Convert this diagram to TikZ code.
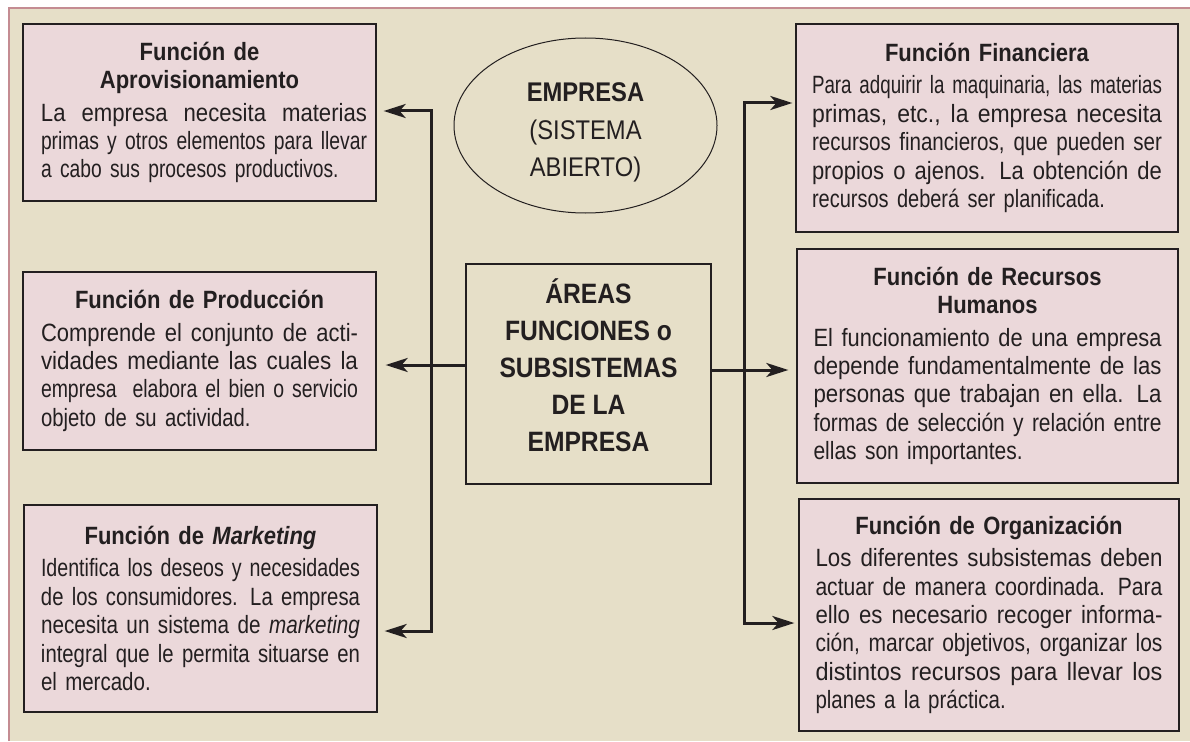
\documentclass[tikz,border=0pt]{standalone}
\usepackage{fontspec}
\usepackage{graphicx}
\setmainfont{Liberation Sans}
\newfontfamily\bodyA{Liberation Sans}[FakeStretch=0.77]
\newfontfamily\bodyB{Liberation Sans}[FakeStretch=0.81]
\newfontfamily\bodyC{Liberation Sans}[FakeStretch=0.82]
\newfontfamily\bodyD{Liberation Sans}[FakeStretch=0.80]
\newfontfamily\bodyE{Liberation Sans}[FakeStretch=0.84]
\newfontfamily\ttlf{Liberation Sans}[FakeStretch=0.88]
\usetikzlibrary{arrows.meta,shapes.geometric}
\definecolor{bgc}{HTML}{E6DFC8}
\definecolor{boxc}{HTML}{EBD8DA}
\definecolor{framec}{HTML}{C48C92}
\definecolor{ink}{HTML}{231F20}
\newlength{\jw}
\newlength{\jin}
\newsavebox{\jbox}
\newcommand{\ttl}[1]{{\centering\ttlf\bfseries #1\par}\vspace{4pt}}
\newcommand{\jl}[1]{\noindent\sbox{\jbox}{#1}%
  \ifdim\wd\jbox>\jw
    \resizebox{\jw}{\height}{\usebox{\jbox}}%
  \else
    \setlength{\jin}{\dimexpr\jw*20/23\relax}%
    \ifdim\wd\jbox>\jin \setlength{\jin}{\wd\jbox}\fi
    \resizebox{\jw}{\height}{\hbox to \jin{\spaceskip=0.22em plus 1fil minus 0.06em #1}}%
  \fi\par}
\newcommand{\lastl}[1]{\noindent #1\par}
\tikzset{
  fbox/.style={draw=ink, line width=1.3pt, fill=boxc, inner sep=0pt, text=ink},
  bfont/.style={font=#1\fontsize{25}{28.4}\selectfont},
  conn/.style={draw=ink, line width=3pt},
  arr/.style={conn, -{Stealth[length=22pt,width=14pt,inset=6pt]}},
}
\begin{document}
\begin{tikzpicture}[x=1pt,y=-1pt]
\useasboundingbox (0,0) rectangle (1190,741);
\fill[white] (0,0) rectangle (1190,741);
\fill[bgc] (9,8) rectangle (1190,741);
\draw[framec, line width=2pt] (9,741) -- (9,8) -- (1190,8);

\node[fbox, bfont=\bodyA, minimum width=353pt, minimum height=177pt, text width=335pt] (b1) at (199.5,112.5) {%
\leftskip=9pt \setlength{\jw}{326pt}%
\ttl{Función de\\Aprovisionamiento}%
\jl{La empresa necesita materias}%
\jl{primas y otros elementos para llevar}%
\lastl{a cabo sus procesos productivos.}};

\node[fbox, bfont=\bodyB, minimum width=353pt, minimum height=178pt, text width=317pt] (b2) at (199.5,361) {%
\setlength{\jw}{317pt}%
\ttl{Función de Producción}%
\jl{Comprende el conjunto de acti-}%
\jl{vidades mediante las cuales la}%
\jl{empresa\ \ elabora el bien o servicio}%
\lastl{objeto de su actividad.}};

\node[fbox, bfont=\bodyC, minimum width=353pt, minimum height=207pt, text width=319pt] (b3) at (200.5,608.5) {%
\setlength{\jw}{319pt}%
\ttl{Función de \textit{Marketing}}%
\jl{Identifica los deseos y necesidades}%
\jl{de los consumidores. La empresa}%
\jl{necesita un sistema de \textit{marketing}}%
\jl{integral que le permita situarse en}%
\lastl{el mercado.}};

\node[fbox, bfont=\bodyD, minimum width=382pt, minimum height=208pt, text width=350pt] (fin) at (987,128) {%
\setlength{\jw}{350pt}%
\ttl{Función Financiera}%
\jl{Para adquirir la maquinaria, las materias}%
\jl{primas, etc., la empresa necesita}%
\jl{recursos financieros, que pueden ser}%
\jl{propios o ajenos. La obtención de}%
\lastl{recursos deberá ser planificada.}};

\node[fbox, bfont=\bodyE, minimum width=381pt, minimum height=234pt, text width=348pt] (rh) at (987.5,366) {%
\setlength{\jw}{348pt}%
\ttl{Función de Recursos\\Humanos}%
\jl{El funcionamiento de una empresa}%
\jl{depende fundamentalmente de las}%
\jl{personas que trabajan en ella. La}%
\jl{formas de selección y relación entre}%
\lastl{ellas son importantes.}};

\node[fbox, bfont=\bodyC, minimum width=380pt, minimum height=232pt, text width=347pt] (org) at (989,615) {%
\setlength{\jw}{347pt}%
\ttl{Función de Organización}%
\jl{Los diferentes subsistemas deben}%
\jl{actuar de manera coordinada. Para}%
\jl{ello es necesario recoger informa-}%
\jl{ción, marcar objetivos, organizar los}%
\jl{distintos recursos para llevar los}%
\lastl{planes a la práctica.}};

\node[ellipse, draw=ink, line width=1pt, minimum width=263pt, minimum height=175pt, inner sep=0pt]
  (emp) at (585.5,125.5) {};
\node[align=center, text=ink, inner sep=0pt, font=\ttlf\fontsize{27}{37.5}\selectfont, yshift=-7pt]
  (empt) at (emp.center) {\textbf{EMPRESA}\\(SISTEMA\\ABIERTO)};

\node[draw=ink, line width=1.3pt, minimum width=245pt, minimum height=220pt, inner sep=0pt]
  (cb) at (588.5,374) {};
\node[align=center, text=ink, inner sep=0pt, font=\ttlf\bfseries\fontsize{28}{37}\selectfont, yshift=9pt]
  (cbt) at (cb.center) {ÁREAS\\FUNCIONES o\\SUBSISTEMAS\\DE LA\\EMPRESA};

\coordinate (lt) at (431,111);
\coordinate (lb) at (431,631);
\coordinate (rt) at (744,103);
\coordinate (rb) at (744,623);
\coordinate (cl) at (cb.west |- 0,365);
\coordinate (cr) at (cb.east |- 0,370);

\draw[arr, shorten >=7pt] (lb) -- (lt) -- (b1.east |- lt);
\draw[arr, shorten >=7pt] (lt) -- (lb) -- (b3.east |- lb);
\draw[arr, shorten >=9pt] (cl) -- (b2.east |- cl);
\draw[arr, shorten >=3pt] (rb) -- (rt) -- (fin.west |- rt);
\draw[arr, shorten >=4pt] (rt) -- (rb) -- (org.west |- rb);
\draw[arr, shorten >=8pt] (cr) -- (rh.west |- cr);
\end{tikzpicture}
\end{document}
